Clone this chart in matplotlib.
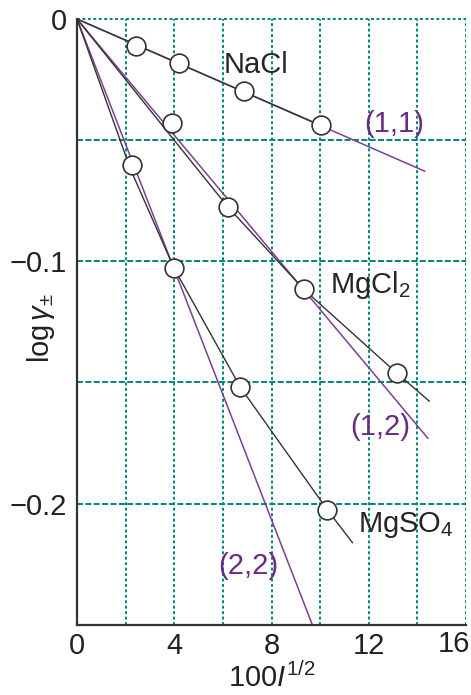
import matplotlib
matplotlib.use("Agg")
import matplotlib.pyplot as plt

plt.rcParams['font.family'] = ['Liberation Sans', 'DejaVu Sans']
plt.rcParams['mathtext.fontset'] = 'custom'
plt.rcParams['mathtext.rm'] = 'Liberation Sans'
plt.rcParams['mathtext.it'] = 'Liberation Sans:italic'
plt.rcParams['mathtext.default'] = 'regular'

# ---- data ----
nacl_x = [2.43, 4.2, 6.88, 10.03]
nacl_y = [-0.0111, -0.018, -0.0298, -0.0439]
nacl_fit_x = [0, 10.03]
nacl_fit_y = [0, -0.0439]
nacl_lim_x = [0, 14.3]
nacl_lim_y = [0, -0.0628]

mgcl2_x = [3.9, 6.2, 9.33, 13.16]
mgcl2_y = [-0.043, -0.0775, -0.1116, -0.1462]
mgcl2_fit_x = [0, 4.1, 6.2, 9.33, 13.16, 14.49]
mgcl2_fit_y = [0, -0.0513, -0.0775, -0.1116, -0.1462, -0.1577]
mgcl2_lim_x = [0, 14.43]
mgcl2_lim_y = [0, -0.173]

mgso4_x = [2.28, 3.99, 6.72, 10.3]
mgso4_y = [-0.0603, -0.1028, -0.152, -0.2026]
mgso4_fit_x = [0, 2.2, 3.99, 6.72, 10.3, 11.33]
mgso4_fit_y = [0, -0.062, -0.1028, -0.152, -0.2026, -0.2161]
mgso4_lim_x = [0, 9.68]
mgso4_lim_y = [0, -0.25]

x_ticks = [0, 4, 8, 12, 16]
x_tick_labels = ['0', '4', '8', '12', '16']
y_ticks = [0, -0.1, -0.2]
y_tick_labels = ['0', '\u22120.1', '\u22120.2']
x_grid = [2, 4, 6, 8, 10, 12, 14, 16]
y_grid = [-0.05, -0.1, -0.15, -0.2]

GRID = '#00857c'
PURPLE = '#7d3f93'
PTEXT = '#6a2c82'
DARK = '#333333'
FS = 21

fig = plt.figure(figsize=(4.71, 6.95), dpi=100)
ax = fig.add_axes([77/471, 1 - 624.8/695, 389/471, 605.8/695])
ax.set_xlim(0, 16)
ax.set_ylim(-0.25, 0)

for gx in x_grid:
    ax.axvline(gx, color=GRID, lw=1.4, linestyle=(0, (1.5, 1.3)), zorder=1)
ax.axhline(0, color=GRID, lw=1.4, linestyle=(0, (1.5, 1.3)), zorder=1, clip_on=False)
for gy in y_grid:
    ax.axhline(gy, color=GRID, lw=1.4, linestyle=(0, (3.1, 1.2)), zorder=1)

for lx, ly in [(nacl_lim_x, nacl_lim_y), (mgcl2_lim_x, mgcl2_lim_y), (mgso4_lim_x, mgso4_lim_y)]:
    ax.plot(lx, ly, color=PURPLE, lw=1.1, zorder=2)
for fx, fy in [(nacl_fit_x, nacl_fit_y), (mgcl2_fit_x, mgcl2_fit_y), (mgso4_fit_x, mgso4_fit_y)]:
    ax.plot(fx, fy, color=DARK, lw=1.0, zorder=3)
for px, py in [(nacl_x, nacl_y), (mgcl2_x, mgcl2_y), (mgso4_x, mgso4_y)]:
    ax.plot(px, py, 'o', ms=13.5, mfc='white', mec=DARK, mew=1.2, zorder=4, linestyle='none')

ax.text(6.05, -0.0222, 'NaCl', fontsize=FS, color='#262626', ha='left', va='baseline')
ax.text(10.41, -0.1132, r'MgCl$_2$', fontsize=FS, color='#262626', ha='left', va='baseline')
ax.text(11.57, -0.2116, r'MgSO$_4$', fontsize=FS, color='#262626', ha='left', va='baseline')
ax.text(13.04, -0.0465, '(1,1)', fontsize=FS, color=PTEXT, ha='center', va='baseline')
ax.text(11.23, -0.1717, '(1,2)', fontsize=FS, color=PTEXT, ha='left', va='baseline')
ax.text(5.81, -0.229, '(2,2)', fontsize=FS, color=PTEXT, ha='left', va='baseline')

for s in ['top', 'right']:
    ax.spines[s].set_visible(False)
for s in ['left', 'bottom']:
    ax.spines[s].set_color(DARK)
    ax.spines[s].set_linewidth(1.6)
    ax.spines[s].set_zorder(5)

ax.set_xticks(x_ticks)
ax.set_xticklabels(x_tick_labels[:-1] + [''])
ax.set_yticks(y_ticks)
ax.set_yticklabels(y_tick_labels)
ax.tick_params(axis='both', length=0, labelsize=FS, labelcolor='#222222')
ax.tick_params(axis='x', pad=5)
ax.tick_params(axis='y', pad=7)

# last x tick label, kept inside the figure as in the reference
fig.text(470/471, 1 - 629.5/695, x_tick_labels[-1], fontsize=FS, color='#222222',
         ha='right', va='top')

fig.text(272/471, 1 - 678/695, r'100$\mathit{I}^{1/2}$', fontsize=FS, color='#222222',
         ha='center', va='center')
fig.text(41/471, 1 - 328/695, r'log$\,\mathit{\gamma}_{\pm}$', fontsize=FS, color='#222222',
         ha='center', va='center', rotation=90)

fig.savefig('out.png', dpi=100)
